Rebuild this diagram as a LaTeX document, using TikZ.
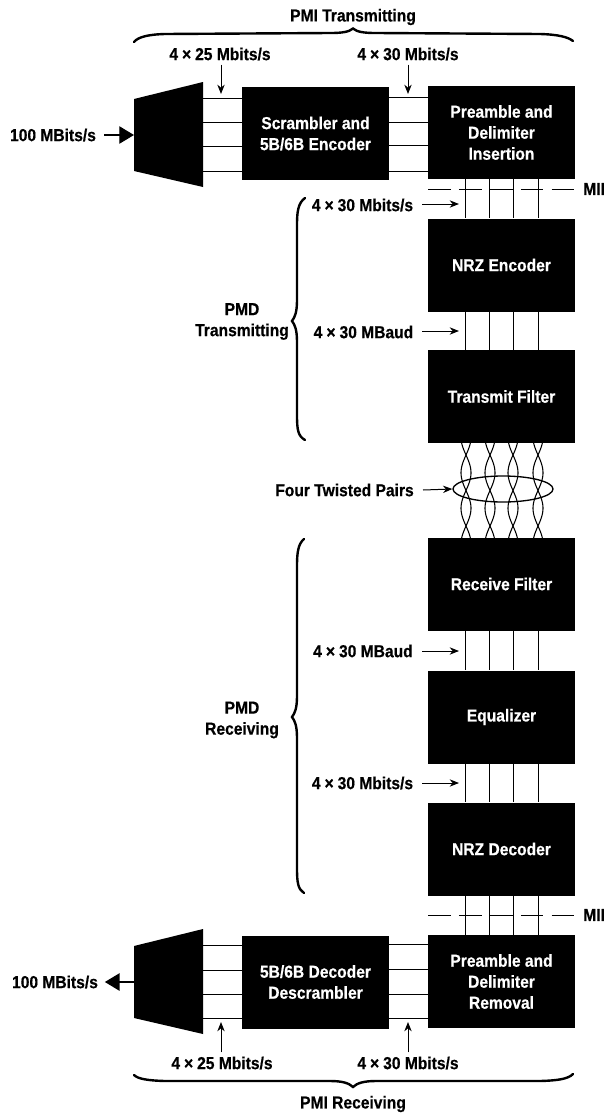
\documentclass[tikz,border=0pt]{standalone}
\usepackage{fontspec}
\setmainfont[FakeStretch=0.9,BoldFeatures={FakeStretch=0.9,FakeBold=0.5}]{Liberation Sans}
\usetikzlibrary{arrows.meta,shapes.geometric}
\newcommand{\crossx}{\kern3pt×\kern3pt}
\tikzset{
  txt/.style={font=\fontsize{13}{15.75}\selectfont\bfseries,align=center,inner sep=0pt,text=black},
  blk/.style={txt,fill=black,text=white,minimum width=110.25pt,minimum height=69.75pt},
  wire/.style={draw=black,line width=0.75pt},
  bracecurve/.style={draw=black,line width=1.8pt,line join=miter,line cap=round},
  lead/.style={draw=black,line width=0.75pt,-{Stealth[length=7pt,width=5.5pt]}},
  bighead/.style={draw=black,line width=0.85pt,-{Triangle[length=11pt,width=13pt]}},
  miiline/.style={draw=black,line width=0.75pt,dash pattern=on 17pt off 6.2pt},
  twistline/.style={draw=black,line width=0.8pt}
}
\begin{document}
\begin{tikzpicture}[x=0.75pt,y=-0.75pt]
\path[use as bounding box] (0,0) rectangle (608,1114);
% twisted pairs
\foreach \cx in {466,490,513,538}{
  \draw[twistline,domain=443:538,samples=50,variable=\t,smooth] plot ({\cx+5*sin(180*(\t-455)/35.5)},{\t});
  \draw[twistline,domain=443:538,samples=50,variable=\t,smooth] plot ({\cx-5*sin(180*(\t-455)/35.5)},{\t});
}
% blocks
\node[blk] (scr) at (315.5,133.5) {Scrambler and\\5B/6B Encoder};
\node[blk] (pre) at (501.5,132.5) {Preamble and\\Delimiter\\Insertion};
\node[blk] (enc) at (501.5,265) {NRZ Encoder};
\node[blk] (tx) at (501.5,396.5) {Transmit Filter};
\node[blk] (rx) at (501.5,584) {Receive Filter};
\node[blk] (eq) at (501.5,717) {Equalizer};
\node[blk] (dec) at (501.5,849) {NRZ Decoder};
\node[blk] (rem) at (501.5,981.5) {Preamble and\\Delimiter\\Removal};
\node[blk] (dsc) at (315.5,982) {5B/6B Decoder\\Descrambler};
% multiplexers
\fill[black] (134,99) coordinate (mtl) -- (203,82) coordinate (mtr) -- (203,187) -- (134,171) -- cycle;
\fill[black] (134,946) coordinate (mbl) -- (203,929) coordinate (mbr) -- (203,1034) -- (134,1018) -- cycle;
% horizontal wires
\foreach \y in {98,122.5,146,171} \draw[wire] (mtr |- 0,\y) -- (scr.west |- 0,\y);
\foreach \y in {97,122,145,171} \draw[wire] (scr.east |- 0,\y) -- (pre.west |- 0,\y);
\foreach \y in {945,970,994,1018} \draw[wire] (mbr |- 0,\y) -- (dsc.west |- 0,\y);
\foreach \y in {944,969,994,1018} \draw[wire] (dsc.east |- 0,\y) -- (rem.west |- 0,\y);
% vertical wires
\foreach \x in {465,489.5,513.5,538}{
  \coordinate (vx) at (\x,0);
  \draw[wire] (pre.south -| vx) -- (enc.north -| vx);
  \draw[wire] (enc.south -| vx) -- (tx.north -| vx);
  \draw[wire] (rx.south -| vx) -- (eq.north -| vx);
  \draw[wire] (eq.south -| vx) -- (dec.north -| vx);
  \draw[wire] (dec.south -| vx) -- (rem.north -| vx);
}
% MII lines
\coordinate (miiA) at (428,189);
\coordinate (miiB) at (575,189);
\coordinate (miiC) at (428,915);
\coordinate (miiD) at (575,915);
\draw[miiline] (miiA) -- (miiB);
\draw[miiline] (miiC) -- (miiD);
\node[txt,anchor=west] (miit) at (583,189) {MII};
\node[txt,anchor=west] (miib) at (583,915) {MII};
% top and bottom
\node[txt] (pmit) at (353,17) {PMI Transmitting};
\node[txt] (pmir) at (353,1104) {PMI Receiving};
\draw[bracecurve] (134,42) .. controls (138,37) and (148,34.5) .. (165,34) -- (330,33) .. controls (342,33) and (349,32) .. (353,28.5) .. controls (357,32) and (364,33) .. (376,33) -- (540,34) .. controls (558,34.5) and (568,37) .. (573,41);
\draw[bracecurve] (134,1075) .. controls (138,1079) and (148,1080.5) .. (165,1081) -- (330,1081) .. controls (342,1081) and (349,1083) .. (353,1087) .. controls (357,1083) and (364,1081) .. (376,1081) -- (540,1081) .. controls (558,1080.5) and (568,1079) .. (573,1074);
% rate labels with vertical arrows
\node[txt] (ra) at (220,54) {4\crossx 25 Mbits/s};
\node[txt] (rb) at (408,54) {4\crossx 30 Mbits/s};
\node[txt] (rc) at (222,1063) {4\crossx 25 Mbits/s};
\node[txt] (rd) at (408,1063) {4\crossx 30 Mbits/s};
\coordinate (raend) at (221,94);
\coordinate (rbend) at (408,94);
\coordinate (rcend) at (221,1022);
\coordinate (rdend) at (408,1022);
\draw[lead] (ra.south -| raend) ++(0,4) -- (raend);
\draw[lead] (rb.south -| rbend) ++(0,4) -- (rbend);
\draw[lead] (rc.north -| rcend) ++(0,-4) -- (rcend);
\draw[lead] (rd.north -| rdend) ++(0,-4) -- (rdend);
% data in/out
\node[txt] (din) at (53,135) {100 MBits/s};
\node[txt] (dout) at (55,982) {100 MBits/s};
\coordinate (dinend) at (134,135);
\coordinate (doutstart) at (134,982);
\draw[bighead] ([xshift=6pt]din.east) -- (dinend);
\draw[bighead] (doutstart) -- ([xshift=5pt]dout.east);
% side labels with horizontal arrows
\node[txt] (la) at (362.5,205) {4\crossx 30 Mbits/s};
\node[txt] (lb) at (363.5,332) {4\crossx 30 MBaud};
\node[txt] (lc) at (363,651) {4\crossx 30 MBaud};
\node[txt] (ld) at (362.5,783) {4\crossx 30 Mbits/s};
\coordinate (laend) at (459,204);
\coordinate (lbend) at (459,331);
\coordinate (lcend) at (459,651);
\coordinate (ldend) at (459,783);
\draw[lead] (422,204) -- (laend);
\draw[lead] (422,331) -- (lbend);
\draw[lead] (422,651) -- (lcend);
\draw[lead] (422,783) -- (ldend);
% four twisted pairs
\node[txt] (ftp) at (344.5,490) {Four Twisted Pairs};
\node[draw=black,line width=1pt,ellipse,inner sep=0pt,minimum width=75pt,minimum height=19.5pt] (ell) at (503,489) {};
\draw[lead] (423,490) -- (ell.west);
% PMD braces
\node[txt] (pmdt) at (242,321.5) {PMD\\Transmitting};
\node[txt] (pmdr) at (242,720) {PMD\\Receiving};
\draw[bracecurve] (305,198) .. controls (298,203) and (297,212) .. (297,225) -- (297,300) .. controls (297,312) and (295,317) .. (292,321) .. controls (295,325) and (297,330) .. (297,342) -- (297,415) .. controls (297,430) and (298,436) .. (305,440);
\draw[bracecurve] (304,539) .. controls (298,544) and (297,553) .. (297,566) -- (297,696) .. controls (297,708) and (295,713) .. (292,717) .. controls (295,721) and (297,726) .. (297,738) -- (297,868) .. controls (297,883) and (298,889) .. (304,893);
\end{tikzpicture}
\end{document}
